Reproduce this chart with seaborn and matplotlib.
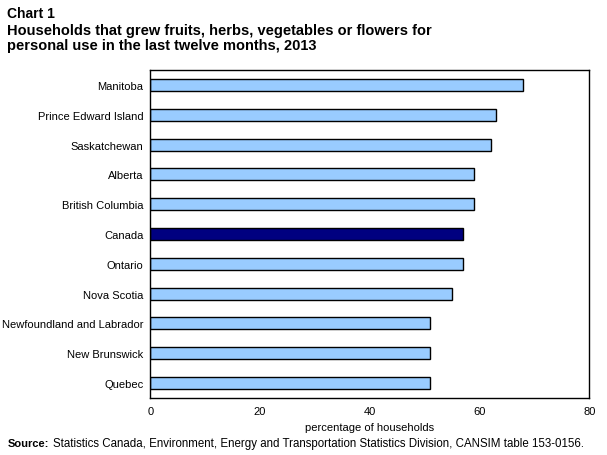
import matplotlib.pyplot as plt
import seaborn as sns
import pandas as pd

# Data
provinces = ["Manitoba", "Prince Edward Island", "Saskatchewan", "Alberta",
             "British Columbia", "Canada", "Ontario", "Nova Scotia",
             "Newfoundland and Labrador", "New Brunswick", "Quebec"]
percent = [68, 63, 62, 59, 59, 57, 57, 55, 51, 51, 51]
x_ticks = [0, 20, 40, 60, 80]

df = pd.DataFrame({"province": provinces, "percent": percent})
df["group"] = ["canada" if p == "Canada" else "prov" for p in provinces]

sns.set_style("white")
plt.rcParams["font.family"] = ["Liberation Sans", "DejaVu Sans"]
plt.rcParams["text.color"] = "black"
plt.rcParams["axes.labelcolor"] = "black"
plt.rcParams["xtick.color"] = "black"
plt.rcParams["ytick.color"] = "black"

fig = plt.figure(figsize=(6.07, 4.56), dpi=100)
ax = fig.add_axes([0.2476, 0.125, 0.7232, 0.7193])

sns.barplot(data=df, x="percent", y="province", hue="group", order=provinces,
            palette={"prov": "#99CCFF", "canada": "#000080"}, saturation=1,
            dodge=False, width=0.4, edgecolor="black", linewidth=1,
            legend=False, ax=ax)

ax.set_xlim(0, 80)
ax.set_ylim(len(provinces) - 0.5, -0.5)
ax.set_xticks(x_ticks)
ax.set_xticklabels([str(t) for t in x_ticks], fontsize=8)
ax.tick_params(axis="x", direction="in", length=3, width=0.8, pad=6)
ax.tick_params(axis="y", length=0, labelsize=8, pad=5)
for spine in ax.spines.values():
    spine.set_visible(True)
    spine.set_color("black")
    spine.set_linewidth(1)
ax.set_xlabel("percentage of households", fontsize=8, labelpad=4)
ax.set_ylabel("")

# Titles and source
fig.text(0.012, 0.985, "Chart 1", fontsize=10, fontweight="bold", va="top")
fig.text(0.012, 0.948, "Households that grew fruits, herbs, vegetables or flowers for\n"
         "personal use in the last twelve months, 2013",
         fontsize=10.5, fontweight="bold", va="top", linespacing=1.1)
fig.text(0.012, 0.027, "Source:", fontsize=8, fontweight="bold", va="center")
fig.text(0.088, 0.027, "Statistics Canada, Environment, Energy and Transportation "
         "Statistics Division, CANSIM table 153-0156.", fontsize=8.3, va="center")

plt.savefig("out.png", dpi=100)
